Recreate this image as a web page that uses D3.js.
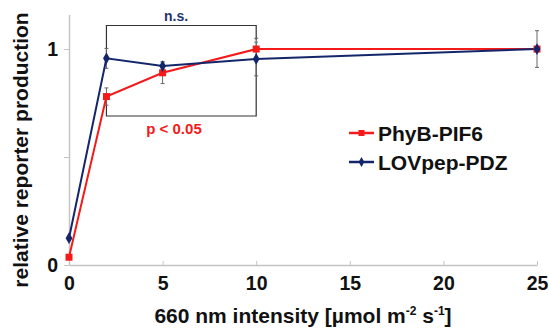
<!DOCTYPE html>
<html><head><meta charset="utf-8">
<script src="https://cdn.jsdelivr.net/npm/d3@7"></script>
<style>body{margin:0;background:#fff;} svg{font-family:"Liberation Sans",Arial,sans-serif;font-weight:bold;}</style>
</head><body><svg id="c" width="549" height="333"></svg>
<script>
const intensities = [0, 2, 5, 10, 25];
const phyB = [0.036, 0.78, 0.89, 1.0, 1.0];
const phyBErr = [0.0, 0.04, 0.05, 0.05, 0.0];
const lov = [0.124, 0.957, 0.921, 0.954, 1.0];
const lovErr = [0.0, 0.046, 0.02, 0.078, 0.085];
const xTicks = [0, 5, 10, 15, 20, 25];
const yTicks = [0, 0.5, 1];
const yTickLabels = ["0", "", "1"];
const seriesNames = ["PhyB-PIF6", "LOVpep-PDZ"];

const svg = d3.select("#c");
const x = d3.scaleLinear().domain([0, 25]).range([69, 537]);
const y = d3.scaleLinear().domain([0, 1.16]).range([265, 14.5]);
const RED = "#f41a1a", BLUE = "#14266a", GRAY = "#c4c4c4";

// axes
const xAx = svg.append("g").attr("transform", `translate(0,${y(0)})`)
  .call(d3.axisBottom(x).tickValues(xTicks).tickSizeInner(-4).tickSizeOuter(0).tickPadding(11));
xAx.select(".domain").attr("stroke", GRAY).attr("stroke-width", 1.5);
xAx.selectAll(".tick line").attr("stroke", GRAY);
xAx.selectAll(".tick text").attr("font-size", 19.5).attr("font-family", "Liberation Sans, Arial").attr("font-weight", "bold").attr("fill", "#111");

const yAx = svg.append("g").attr("transform", `translate(${x(0)},0)`)
  .call(d3.axisLeft(y).tickValues(yTicks).tickFormat((d, i) => yTickLabels[i]).tickSizeInner(5).tickSizeOuter(0).tickPadding(6));
yAx.select(".domain").attr("stroke", GRAY).attr("stroke-width", 1.5);
yAx.selectAll(".tick line").attr("stroke", GRAY);
yAx.selectAll(".tick text").attr("font-size", 19.5).attr("font-family", "Liberation Sans, Arial").attr("font-weight", "bold").attr("fill", "#111");

// titles
svg.append("text").attr("x", 303).attr("y", 323).attr("text-anchor", "middle").attr("font-size", 21).attr("fill", "#111")
  .html('660 nm intensity [µmol m<tspan dy="-8" font-size="12">-2</tspan><tspan dy="8"> s</tspan><tspan dy="-8" font-size="12">-1</tspan><tspan dy="8">]</tspan>');
svg.append("text").attr("transform", "translate(28,150) rotate(-90)").attr("text-anchor", "middle").attr("font-size", 21).attr("fill", "#111")
  .text("relative reporter production");

// brackets
const bx0 = x(2), bx1 = x(10);
svg.append("path").attr("d", `M${bx0},${y(0.96)+0}V25.5H${bx1}V${y(1.05)+2}`).attr("fill", "none").attr("stroke", "#333").attr("stroke-width", 1.2);
svg.append("path").attr("d", `M${bx0},98V116H${bx1}V${y(0.95)+2}`).attr("fill", "none").attr("stroke", "#333").attr("stroke-width", 1.2);
svg.append("text").attr("x", 176).attr("y", 21).attr("text-anchor", "middle").attr("font-size", 14).attr("fill", "#23346e").text("n.s.");
svg.append("text").attr("x", 174).attr("y", 134).attr("text-anchor", "middle").attr("font-size", 15).attr("fill", RED).text("p < 0.05");

// error bars
function errs(vals, es) {
  const g = svg.append("g").attr("stroke", "#666").attr("stroke-width", 1);
  intensities.forEach((d, i) => {
    if (!es[i]) return;
    const cx = x(d), t = y(vals[i] + es[i]), b = y(vals[i] - es[i]);
    g.append("line").attr("x1", cx).attr("x2", cx).attr("y1", t).attr("y2", b);
    g.append("line").attr("x1", cx - 2).attr("x2", cx + 2).attr("y1", t).attr("y2", t);
    g.append("line").attr("x1", cx - 2).attr("x2", cx + 2).attr("y1", b).attr("y2", b);
  });
}
errs(phyB, phyBErr);
errs(lov, lovErr);

const line = d3.line().x((d, i) => x(intensities[i])).y(d => y(d));
svg.append("path").datum(phyB).attr("d", line).attr("fill", "none").attr("stroke", RED).attr("stroke-width", 2);
svg.append("path").datum(lov).attr("d", line).attr("fill", "none").attr("stroke", BLUE).attr("stroke-width", 2);

svg.selectAll(".sq").data(phyB).join("rect").attr("x", (d, i) => x(intensities[i]) - 3.5).attr("y", d => y(d) - 3.5)
  .attr("width", 7).attr("height", 7).attr("fill", RED);
const diamond = d3.symbol().type(d3.symbolDiamond).size(40);
svg.selectAll(".dm").data(lov).join("path").attr("d", diamond)
  .attr("transform", (d, i) => `translate(${x(intensities[i])},${y(d)})`).attr("fill", BLUE);

// legend
const lg = svg.append("g");
[[RED, 133, "sq"], [BLUE, 162, "dm"]].forEach(([c, ly, m], i) => {
  lg.append("line").attr("x1", 349).attr("x2", 374).attr("y1", ly).attr("y2", ly).attr("stroke", c).attr("stroke-width", 2.5);
  if (m === "sq") lg.append("rect").attr("x", 358.5).attr("y", ly - 3).attr("width", 6).attr("height", 6).attr("fill", c);
  else lg.append("path").attr("d", d3.symbol().type(d3.symbolDiamond).size(28)).attr("transform", `translate(361.5,${ly})`).attr("fill", c);
  lg.append("text").attr("x", 378).attr("y", ly + 7.5).attr("font-size", 21).attr("fill", "#111").text(seriesNames[i]);
});
</script></body></html>
